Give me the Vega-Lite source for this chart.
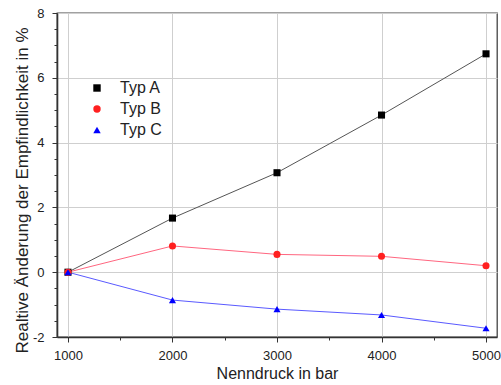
{
  "$schema": "https://vega.github.io/schema/vega-lite/v6.json",
  "width": 440,
  "height": 324,
  "autosize": {"type": "none"},
  "padding": {"left": 57, "top": 13, "right": 4, "bottom": 48},
  "background": "white",
  "config": {
    "view": {"stroke": "#444", "strokeWidth": 1.3},
    "font": "Liberation Sans",
    "axis": {
      "labelFont": "Liberation Sans",
      "titleFont": "Liberation Sans",
      "labelFontSize": 13,
      "titleFontSize": 16,
      "titleFontWeight": "normal",
      "labelColor": "#222",
      "titleColor": "#222",
      "domainColor": "#333",
      "domainWidth": 1.6,
      "tickColor": "#333",
      "tickWidth": 1,
      "gridColor": "#cfcfcf",
      "gridWidth": 1
    }
  },
  "data": {
    "values": [
      {"druck": 1000, "wert": 0, "typ": "Typ A"},
      {"druck": 2000, "wert": 1.67, "typ": "Typ A"},
      {"druck": 3000, "wert": 3.07, "typ": "Typ A"},
      {"druck": 4000, "wert": 4.85, "typ": "Typ A"},
      {"druck": 5000, "wert": 6.74, "typ": "Typ A"},
      {"druck": 1000, "wert": 0, "typ": "Typ B"},
      {"druck": 2000, "wert": 0.81, "typ": "Typ B"},
      {"druck": 3000, "wert": 0.55, "typ": "Typ B"},
      {"druck": 4000, "wert": 0.49, "typ": "Typ B"},
      {"druck": 5000, "wert": 0.2, "typ": "Typ B"},
      {"druck": 1000, "wert": 0, "typ": "Typ C"},
      {"druck": 2000, "wert": -0.86, "typ": "Typ C"},
      {"druck": 3000, "wert": -1.14, "typ": "Typ C"},
      {"druck": 4000, "wert": -1.32, "typ": "Typ C"},
      {"druck": 5000, "wert": -1.73, "typ": "Typ C"}
    ]
  },
  "encoding": {
    "x": {
      "field": "druck",
      "type": "quantitative",
      "scale": {"domain": [895, 5105], "nice": false, "zero": false},
      "axis": {
        "title": "Nenndruck in bar",
        "values": [1000, 1500, 2000, 2500, 3000, 3500, 4000, 4500, 5000],
        "format": "d",
        "labelExpr": "datum.value % 1000 === 0 ? datum.label : ''",
        "tickSize": {"condition": {"test": "datum.value % 1000 === 0", "value": 5}, "value": 3},
        "gridOpacity": {"condition": {"test": "datum.value % 1000 === 0", "value": 1}, "value": 0},
        "labelPadding": 7,
        "titleY": 41,
        "titleBaseline": "alphabetic"
      }
    },
    "y": {
      "field": "wert",
      "type": "quantitative",
      "scale": {"domain": [-2, 8], "nice": false},
      "axis": {
        "title": "Realtive Änderung der Empfindlichkeit in %",
        "titleFontSize": 17,
        "values": [-2, -1.5, -1, -0.5, 0, 0.5, 1, 1.5, 2, 2.5, 3, 3.5, 4, 4.5, 5, 5.5, 6, 6.5, 7, 7.5, 8],
        "labelExpr": "datum.value % 2 === 0 ? toString(datum.value) : ''",
        "tickSize": {"condition": {"test": "datum.value % 2 === 0", "value": 5}, "value": 3},
        "gridOpacity": {"condition": {"test": "datum.value % 2 === 0", "value": 1}, "value": 0},
        "labelPadding": 8,
        "titleX": -30,
        "titleY": 177,
        "titleBaseline": "alphabetic",
        "titleAngle": 270
      }
    }
  },
  "layer": [
    {
      "mark": {"type": "line", "strokeWidth": 1},
      "encoding": {
        "stroke": {
          "field": "typ",
          "type": "nominal",
          "scale": {"range": ["#555555", "#ff6680", "#5a5aff"]},
          "legend": null
        }
      }
    },
    {
      "mark": {"type": "point", "filled": true, "opacity": 1, "size": 50},
      "encoding": {
        "shape": {
          "field": "typ",
          "type": "nominal",
          "scale": {"domain": ["Typ A", "Typ B", "Typ C"], "range": ["square", "circle", "triangle-up"]}
        },
        "fill": {
          "field": "typ",
          "type": "nominal",
          "scale": {"domain": ["Typ A", "Typ B", "Typ C"], "range": ["#000000", "#ff2020", "#0000ff"]},
          "legend": {
            "title": null,
            "orient": "none",
            "legendX": 32,
            "legendY": 67,
            "labelFont": "Liberation Sans",
            "labelFontSize": 16,
            "labelColor": "#222",
            "labelOffset": 15,
            "symbolSize": 55,
            "symbolOpacity": 1,
            "rowPadding": 5
          }
        }
      }
    }
  ]
}
